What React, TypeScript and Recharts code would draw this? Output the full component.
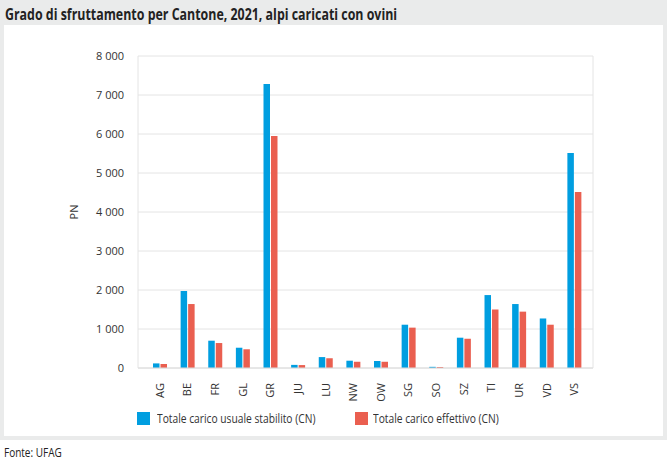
import React from 'react';
import { BarChart, Bar, XAxis, YAxis, CartesianGrid } from 'recharts';

const cantons = ['AG', 'BE', 'FR', 'GL', 'GR', 'JU', 'LU', 'NW', 'OW', 'SG', 'SO', 'SZ', 'TI', 'UR', 'VD', 'VS'];
const caricoUsuale = [118, 1975, 700, 520, 7280, 80, 280, 187, 180, 1110, 30, 777, 1870, 1640, 1270, 5510];
const caricoEffettivo = [103, 1640, 640, 480, 5950, 75, 250, 160, 160, 1035, 25, 750, 1500, 1445, 1110, 4510];
const yTicks = [0, 1000, 2000, 3000, 4000, 5000, 6000, 7000, 8000];

const BLUE = '#009ee0';
const RED = '#ea5f50';
const FONT = '"Open Sans", sans-serif';

const data = cantons.map((c, i) => ({
  name: c,
  usuale: caricoUsuale[i],
  effettivo: caricoEffettivo[i],
}));

const fmt = (v: number) => (v >= 1000 ? `${Math.floor(v / 1000)} ${String(v % 1000).padStart(3, '0')}` : String(v));

const XTick = (props: any) => {
  const { x, y, payload } = props;
  return (
    <g transform={`translate(${x},${y + 7})`}>
      <text transform="rotate(-90)" textAnchor="end" dy={4} fill="#333" fontSize={11} fontFamily={FONT}>
        {payload.value}
      </text>
    </g>
  );
};

// narrow the text a bit, the original uses a condensed face
const narrow = (s: number): React.CSSProperties => ({ transform: `scaleX(${s})`, transformOrigin: 'left center' });

export default function App() {
  return (
    <div style={{ position: 'absolute', left: 0, top: 0, width: 668, height: 465, background: '#fff', fontFamily: FONT }}>
      <div style={{ position: 'absolute', left: 0, top: 0, width: 667, height: 440, background: '#eaebeb' }} />
      <div style={{ position: 'absolute', left: 5, top: 3, fontSize: 15.5, fontWeight: 'bold', color: '#222', whiteSpace: 'nowrap', ...narrow(0.8) }}>
        Grado di sfruttamento per Cantone, 2021, alpi caricati con ovini
      </div>
      <div style={{ position: 'absolute', left: 4, top: 25, width: 659, height: 411, background: '#fff' }} />
      <div style={{ position: 'absolute', left: 0, top: 0 }}>
        <BarChart
          width={668}
          height={440}
          data={data}
          margin={{ top: 56, right: 75, left: 78, bottom: 42 }}
          barSize={6.5}
          barGap={1}
        >
          <CartesianGrid
            stroke="#e4e4e4"
            verticalCoordinatesGenerator={({ offset }: any) => [offset.left, offset.left + offset.width]}
          />
          <XAxis
            dataKey="name"
            height={30}
            tickLine={false}
            axisLine={{ stroke: '#dcdcdc' }}
            interval={0}
            padding={{ left: 8, right: 5 }}
            tick={<XTick />}
          />
          <YAxis
            width={60}
            domain={[0, 8000]}
            ticks={yTicks}
            tickFormatter={fmt}
            axisLine={false}
            tickLine={false}
            tickMargin={8}
            tick={{ fill: '#333', fontSize: 11, fontFamily: FONT }}
          />
          <Bar dataKey="usuale" fill={BLUE} isAnimationActive={false} />
          <Bar dataKey="effettivo" fill={RED} isAnimationActive={false} />
        </BarChart>
      </div>
      <div style={{ position: 'absolute', left: 73, top: 212, transform: 'translate(-50%,-50%) rotate(-90deg)', fontSize: 11, color: '#333' }}>
        PN
      </div>
      <div style={{ position: 'absolute', left: 137, top: 412, width: 13, height: 13, background: BLUE }} />
      <div style={{ position: 'absolute', left: 157, top: 410, fontSize: 12.5, color: '#333', whiteSpace: 'nowrap', ...narrow(0.82) }}>
        Totale carico usuale stabilito (CN)
      </div>
      <div style={{ position: 'absolute', left: 355, top: 412, width: 13, height: 13, background: RED }} />
      <div style={{ position: 'absolute', left: 373, top: 410, fontSize: 12.5, color: '#333', whiteSpace: 'nowrap', ...narrow(0.82) }}>
        Totale carico effettivo (CN)
      </div>
      <div style={{ position: 'absolute', left: 4, top: 444, fontSize: 12.5, color: '#222', whiteSpace: 'nowrap', ...narrow(0.8) }}>
        Fonte: UFAG
      </div>
    </div>
  );
}
